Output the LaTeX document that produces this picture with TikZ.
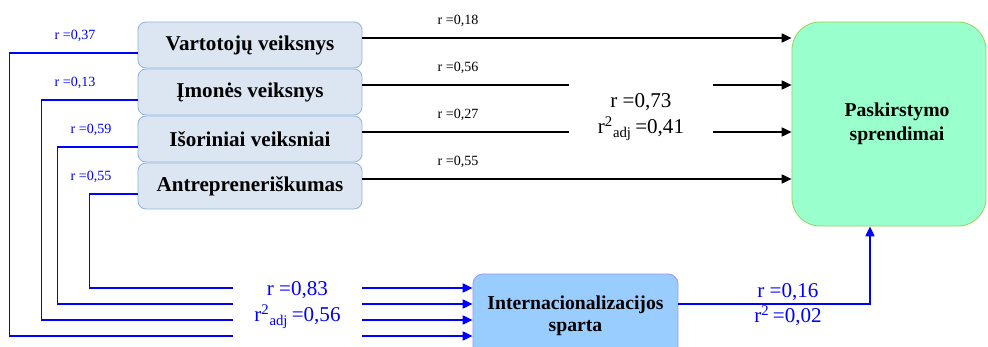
\documentclass[tikz,border=0pt]{standalone}
\usepackage{fontspec}
\setmainfont{Liberation Serif}
\usepackage{xcolor}
\usetikzlibrary{arrows.meta}

\definecolor{factfill}{HTML}{DCE6F2}
\definecolor{factline}{HTML}{8EB4E3}
\definecolor{paskfill}{HTML}{99FFCC}
\definecolor{paskline}{HTML}{9BD15F}
\definecolor{interfill}{HTML}{99CCFF}
\definecolor{interline}{HTML}{9999FF}

\begin{document}
\begin{tikzpicture}[x=0.025cm,y=-0.025cm,
  factor/.style={draw=factline,fill=factfill,line width=0.6pt,rounded corners=0.2cm,
    minimum width=5.6cm,minimum height=1.15cm,font=\fontsize{15}{17}\selectfont\bfseries},
  blackarrow/.style={line width=0.9pt,-{Triangle[length=7pt,width=6.5pt]}},
  bluearrow/.style={blue,line width=0.9pt,-{Triangle[length=7pt,width=6.5pt]}},
  smalllab/.style={font=\fontsize{10}{12}\selectfont},
  biglab/.style={align=center,font=\fontsize{15}{18.5}\selectfont},
  gap/.style={fill=white,inner sep=0pt}]
  \useasboundingbox (0,0) rectangle (988,347);
  % left: the four factors
  \node[factor] (vart) at (250,45) {Vartotojų veiksnys};
  \node[factor] (imon) at (250,92) {Įmonės veiksnys};
  \node[factor] (isor) at (250,139) {Išoriniai veiksniai};
  \node[factor] (antr) at (250,186) {Antrepreneriškumas};
  % right: outcome and mediator
  \node[draw=paskline,fill=paskfill,line width=0.6pt,rounded corners=0.7cm,
    minimum width=4.85cm,minimum height=5.1cm,align=center,
    font=\fontsize{14}{17}\selectfont\bfseries] (pask) at (889,124) {\hspace*{0.4cm}Paskirstymo\\\hspace*{0.4cm}sprendimai};
  \node[draw=interline,fill=interfill,line width=0.6pt,rounded corners=0.25cm,
    minimum width=5.125cm,minimum height=2.1cm,align=center,
    font=\fontsize{14}{16}\selectfont\bfseries] (inter) at (575.5,316) {Internacionalizacijos\\sparta};
  % black: factors to outcome
  \foreach \f/\r/\ly in {vart/{0,18}/21,imon/{0,56}/68,isor/{0,27}/115,antr/{0,55}/162}{
    \draw[blackarrow] ([yshift=0.175cm]\f.east) -- ([yshift=0.175cm]\f.east -| pask.west);
    \node[smalllab] (lab\f) at (458,\ly) {r =\r};
  }
  \node[gap,biglab,minimum width=3.6cm,minimum height=1.75cm] (rtot) at (641,117)
    {r =0,73\\r\textsuperscript{2}\textsubscript{adj}\,=0,41};
  % blue: factors to mediator
  \draw[bluearrow] ([yshift=-0.2cm]vart.west) -- ++(-128,0) |- ([yshift=-0.5cm]inter.west);
  \draw[bluearrow] ([yshift=-0.2cm]imon.west) -- ++(-96,0) |- ([yshift=-0.1cm]inter.west);
  \draw[bluearrow] ([yshift=-0.2cm]isor.west) -- ++(-80,0) |- ([yshift=0.3cm]inter.west);
  \draw[bluearrow] ([yshift=-0.2cm]antr.west) -- ++(-48,0) |- ([yshift=0.7cm]inter.west);
  \node[smalllab,text=blue] (rvart) at (75,36) {r =0,37};
  \node[smalllab,text=blue] (rimon) at (75,83) {r =0,13};
  \node[smalllab,text=blue] (risor) at (91,130) {r =0,59};
  \node[smalllab,text=blue] (rantr) at (91,177) {r =0,55};
  \node[gap,biglab,text=blue,minimum width=3.225cm,minimum height=1.65cm] (rint) at (297.5,305)
    {r =0,83\\r\textsuperscript{2}\textsubscript{adj}\,=0,56};
  % mediator to outcome
  \draw[bluearrow] ([yshift=0.3cm]inter.east) -| ([xshift=-0.475cm]pask.south);
  \node[biglab,text=blue,font=\fontsize{15}{17.8}\selectfont] (rmed) at (788,304.5)
    {r =0,16\\r\textsuperscript{2}\,=0,02};
\end{tikzpicture}
\end{document}
